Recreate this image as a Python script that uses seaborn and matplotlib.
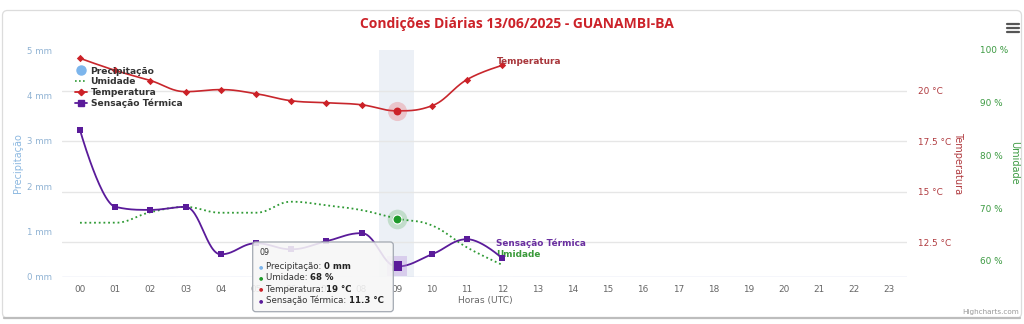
import numpy as np
import pandas as pd
import matplotlib
matplotlib.use("Agg")
import matplotlib.pyplot as plt
import matplotlib.transforms as mtransforms
from matplotlib.lines import Line2D
from matplotlib.patches import FancyBboxPatch
from matplotlib.text import Annotation
import seaborn as sns

# ---- data -------------------------------------------------------------
hour_labels = [f"{h:02d}" for h in range(24)]
obs_hours = list(range(13))
precipitacao_mm = [0, 0, 0, 0, 0, 0, 0, 0, 0, 0, 0, 0, 0]
umidade_pct = [67.2, 67.2, 69.2, 70.2, 69.1, 69.1, 71.2, 70.5, 69.6, 68.0, 66.7, 62.5, 59.2]
temperatura_c = [21.6, 21.0, 20.5, 19.95, 20.05, 19.85, 19.5, 19.4, 19.3, 19.0, 19.25, 20.55, 21.25]
sensacao_c = [18.05, 14.25, 14.1, 14.25, 11.9, 12.45, 12.15, 12.55, 12.95, 11.3, 11.9, 12.65, 11.7]

precip_ticks = [0, 1, 2, 3, 4, 5]
temp_ticks = [12.5, 15, 17.5, 20]
umid_ticks = [60, 70, 80, 90, 100]
selected_hour = 9

title = "Condições Diárias 13/06/2025 - GUANAMBI-BA"

df = pd.DataFrame({
    "hora": obs_hours,
    "precipitacao": precipitacao_mm,
    "umidade": umidade_pct,
    "temperatura": temperatura_c,
    "sensacao": sensacao_c,
})

# ---- colours ----------------------------------------------------------
C_PREC = "#7cb5ec"
C_UMID = "#2f9a35"
C_TEMP = "#cc2127"
C_SENS = "#5a1b9a"

sns.set_style("white")
plt.rcParams["font.family"] = ["DejaVu Sans"]

W, H = 1024, 324
fig = plt.figure(figsize=(W / 100, H / 100), dpi=100)
# pixel coordinates with origin at the top-left corner
PX = mtransforms.Affine2D().scale(1, -1).translate(0, H).scale(1 / W, 1 / H) + fig.transFigure

L, R, T, B = 62.4, 907.0, 50.0, 277.0
ax = fig.add_axes([L / W, 1 - B / H, (R - L) / W, (B - T) / H])
ax_h = ax.twinx()
ax_t = ax.twinx()

for a in (ax, ax_h, ax_t):
    for s in a.spines.values():
        s.set_visible(False)
    a.set_facecolor("none")


def spline_curve(xs, ys, smoothing=1.5, n=30):
    """Bezier spline through the points (same construction as Highcharts 'spline')."""
    xs = np.asarray(xs, float)
    ys = np.asarray(ys, float)
    k = len(xs)
    lc = np.column_stack([xs, ys]).copy()
    rc = np.column_stack([xs, ys]).copy()
    d = smoothing + 1
    for i in range(1, k - 1):
        px, py = xs[i], ys[i]
        lx, ly, nx, ny = xs[i - 1], ys[i - 1], xs[i + 1], ys[i + 1]
        lcx, lcy = (smoothing * px + lx) / d, (smoothing * py + ly) / d
        rcx, rcy = (smoothing * px + nx) / d, (smoothing * py + ny) / d
        corr = (rcy - lcy) * (rcx - px) / (rcx - lcx) + py - rcy
        lcy += corr
        rcy += corr
        if lcy > ly and lcy > py:
            lcy = max(ly, py); rcy = 2 * py - lcy
        elif lcy < ly and lcy < py:
            lcy = min(ly, py); rcy = 2 * py - lcy
        if rcy > ny and rcy > py:
            rcy = max(ny, py); lcy = 2 * py - rcy
        elif rcy < ny and rcy < py:
            rcy = min(ny, py); lcy = 2 * py - rcy
        lc[i] = (lcx, lcy)
        rc[i] = (rcx, rcy)
    t = np.linspace(0, 1, n)[:, None]
    segs = []
    for i in range(k - 1):
        p0 = np.array([xs[i], ys[i]])
        p3 = np.array([xs[i + 1], ys[i + 1]])
        c1, c2 = rc[i], lc[i + 1]
        pts = ((1 - t) ** 3) * p0 + 3 * ((1 - t) ** 2) * t * c1 + 3 * (1 - t) * t ** 2 * c2 + t ** 3 * p3
        segs.append(pts if i == 0 else pts[1:])
    pts = np.vstack(segs)
    return pd.DataFrame({"x": pts[:, 0], "y": pts[:, 1]})


# ---- background: hover band, grid, axis line ---------------------------
ax.axvspan(selected_hour - 0.5, selected_hour + 0.5, color="#ecf0f6", zorder=0, lw=0)
grid_tr = mtransforms.blended_transform_factory(ax.transAxes, ax_t.transData)
for tv in temp_ticks:
    ax.plot([0, 1], [tv, tv], transform=grid_tr, color="#e6e6e6", lw=1.0, zorder=0.5)
ax.axhline(0, color="#ccd6eb", lw=1.0, zorder=0.6)

# precipitation columns (all zero)
sns.barplot(data=df, x="hora", y="precipitacao", ax=ax, color=C_PREC, native_scale=True,
            width=0.6, zorder=1)

# ---- humidity ---------------------------------------------------------
sel = df[df["hora"] == selected_hour]
cu = spline_curve(df["hora"], df["umidade"])
ax_h.plot(cu["x"], cu["y"], color=C_UMID, lw=1.3, ls=(0, (1, 1.6)), zorder=2)
ax_h.scatter(sel["hora"], sel["umidade"], s=200, color=C_UMID, alpha=0.22, lw=0, zorder=3)
ax_h.scatter(sel["hora"], sel["umidade"], s=42, color="#1e9a2a", edgecolor="#ffffff", lw=0.8, zorder=4)
ax_h.annotate("Umidade", xy=(obs_hours[-1], umidade_pct[-1]), xytext=(-6, 10),
              textcoords="offset pixels", ha="left", va="center", fontsize=6.4,
              fontweight="bold", color="#3a9a3a", zorder=5)

# ---- temperature ------------------------------------------------------
ct = spline_curve(df["hora"], df["temperatura"])
sns.lineplot(data=ct, x="x", y="y", ax=ax_t, sort=False, estimator=None,
             color="#c8262c", lw=1.2, zorder=3)
sns.scatterplot(data=df.drop(index=selected_hour), x="hora", y="temperatura", ax=ax_t,
                marker="D", s=14, color=C_TEMP, edgecolor=C_TEMP, lw=0, zorder=4)
ax_t.scatter(sel["hora"], sel["temperatura"], s=190, color="#e8474c", alpha=0.25, lw=0, zorder=4)
ax_t.scatter(sel["hora"], sel["temperatura"], s=32, color=C_TEMP, lw=0, zorder=5)
ax_t.annotate("Temperatura", xy=(obs_hours[-1], temperatura_c[-1]), xytext=(-5, 4),
              textcoords="offset pixels", ha="left", va="center", fontsize=6.4,
              fontweight="bold", color="#a8363b", zorder=6)

# ---- apparent temperature ---------------------------------------------
cs = spline_curve(df["hora"], df["sensacao"])
sns.lineplot(data=cs, x="x", y="y", ax=ax_t, sort=False, estimator=None,
             color=C_SENS, lw=1.3, zorder=3)
sns.scatterplot(data=df.drop(index=selected_hour), x="hora", y="sensacao", ax=ax_t,
                marker="s", s=22, color=C_SENS, edgecolor=C_SENS, lw=0, zorder=6)
ax_t.scatter(sel["hora"], sel["sensacao"], s=190, marker="s", color="#b48ddb", alpha=0.35, lw=0, zorder=5)
ax_t.scatter(sel["hora"], sel["sensacao"], s=50, marker="s", color=C_SENS, lw=0, zorder=6)
ax_t.annotate("Sensação Térmica", xy=(obs_hours[-1], sensacao_c[-1]), xytext=(-6, 15),
              textcoords="offset pixels", ha="left", va="center", fontsize=6.4,
              fontweight="bold", color="#6a2fa0", zorder=6)

for a in (ax, ax_h, ax_t):
    a.set_xlabel("")
    a.set_ylabel("")
    a.set_xlim(-0.5, 23.5)
ax.set_ylim(0, 5)
ax_t.set_ylim(10.78, 22.01)
ax_h.set_ylim(56.9, 100)

# ---- ticks ------------------------------------------------------------
ax.set_xticks(range(24))
ax.set_xticklabels(hour_labels)
ax.tick_params(axis="x", length=0, pad=5.5, labelsize=6.4, labelcolor="#666666")
ax.set_yticks(precip_ticks)
ax.set_yticklabels([f"{v} mm" for v in precip_ticks])
ax.tick_params(axis="y", length=0, pad=7.2, labelsize=6.2, labelcolor="#8fb2d3")
ax.grid(False)

ax_t.set_yticks(temp_ticks)
ax_t.set_yticklabels([f"{v:g} °C" for v in temp_ticks])
ax_t.tick_params(axis="y", length=0, pad=7.9, labelsize=6.4, labelcolor="#b03a3f")
ax_t.tick_params(axis="x", bottom=False, labelbottom=False)
ax_t.grid(False)

ax_h.set_yticks(umid_ticks)
ax_h.set_yticklabels([f"{v} %" for v in umid_ticks])
ax_h.tick_params(axis="y", length=0, pad=52.5, labelsize=6.4, labelcolor="#3c9a42")
ax_h.tick_params(axis="x", bottom=False, labelbottom=False)
ax_h.grid(False)

# ---- axis titles & chart title ----------------------------------------
fig.text(18, 163, "Precipitação", transform=PX, rotation=90, ha="center", va="center",
         fontsize=7, color="#8cb8e0")
fig.text(958, 163, "Temperatura", transform=PX, rotation=270, ha="center", va="center",
         fontsize=7, color="#b03a3f")
fig.text(1014, 163, "Umidade", transform=PX, rotation=270, ha="center", va="center",
         fontsize=7, color="#3c9a42")
fig.text(485, 301, "Horas (UTC)", transform=PX, ha="center", va="center",
         fontsize=6.6, color="#666666")
fig.text(517, 24, title, transform=PX, ha="center", va="center", fontsize=10,
         fontweight="bold", color="#cc2229", family=["Open Sans", "DejaVu Sans"])

# ---- legend -----------------------------------------------------------
handles = [
    Line2D([], [], ls="None", marker="o", markersize=6.5, color=C_PREC),
    Line2D([], [], color=C_UMID, lw=1.2, ls=(0, (1, 1.4))),
    Line2D([], [], color=C_TEMP, lw=1.3, marker="D", markersize=3.2),
    Line2D([], [], color=C_SENS, lw=1.3, marker="s", markersize=4),
]
labels = ["Precipitação", "Umidade", "Temperatura", "Sensação Térmica"]
leg = ax_t.legend(handles, labels, loc="upper left",
                  bbox_to_anchor=(75 / W, 1 - 66.5 / H), bbox_transform=fig.transFigure,
                  frameon=False, prop={"weight": "bold", "size": 6.6}, handlelength=1.3,
                  handletextpad=0.4, labelspacing=0.2, borderpad=0, borderaxespad=0)
for txt in leg.get_texts():
    txt.set_color("#333333")
leg.set_zorder(20)

# ---- tooltip for the selected hour ------------------------------------
row = df.loc[df["hora"] == selected_hour].iloc[0]
tip = FancyBboxPatch((252.7, 242.0), 140.6, 69.7, transform=PX,
                     boxstyle="round,pad=0,rounding_size=3",
                     facecolor=(0.97, 0.97, 0.97, 0.88), edgecolor="#a3a9b2", lw=0.9, zorder=30)
fig.add_artist(tip)
fig.text(259, 252.5, hour_labels[selected_hour], transform=PX, fontsize=5.8,
         color="#333333", va="center", zorder=31)
tip_rows = [
    ("Precipitação: ", f"{row['precipitacao']:g} mm", C_PREC),
    ("Umidade: ", f"{row['umidade']:g} %", "#1e9a2a"),
    ("Temperatura: ", f"{row['temperatura']:g} °C", C_TEMP),
    ("Sensação Térmica: ", f"{row['sensacao']:g} °C", C_SENS),
]
for i, (name, val, col) in enumerate(tip_rows):
    yy = 266.5 + i * 11.3
    fig.text(258.5, yy, "●", transform=PX, fontsize=3.6, color=col, va="center", zorder=31)
    t1 = fig.text(266, yy, name, transform=PX, fontsize=6.2, color="#333333",
                  va="center", zorder=31)
    fig.add_artist(Annotation(val, xy=(1, 0.5), xycoords=t1, xytext=(0, 0),
                              textcoords="offset points", va="center", ha="left",
                              fontsize=6.2, fontweight="bold", color="#222222",
                              zorder=31))

# ---- card frame, menu icon, credits -----------------------------------
card = FancyBboxPatch((2.5, 10.5), 1019, 307.5, transform=PX,
                      boxstyle="round,pad=0,rounding_size=5",
                      facecolor="none", edgecolor="#dcdcdc", lw=0.9, zorder=0)
fig.add_artist(card)
fig.add_artist(Line2D([4, 1020], [318.3, 318.3], transform=PX, color="#bdbdbd", lw=1.6))
for yy in (23.5, 27.5, 31.5):
    fig.add_artist(Line2D([1007, 1019], [yy, yy], transform=PX, color="#555555", lw=1.6))
fig.text(1019, 312, "Highcharts.com", transform=PX, ha="right", va="center",
         fontsize=5.2, color="#999999")

fig.savefig("out.png", dpi=100)
